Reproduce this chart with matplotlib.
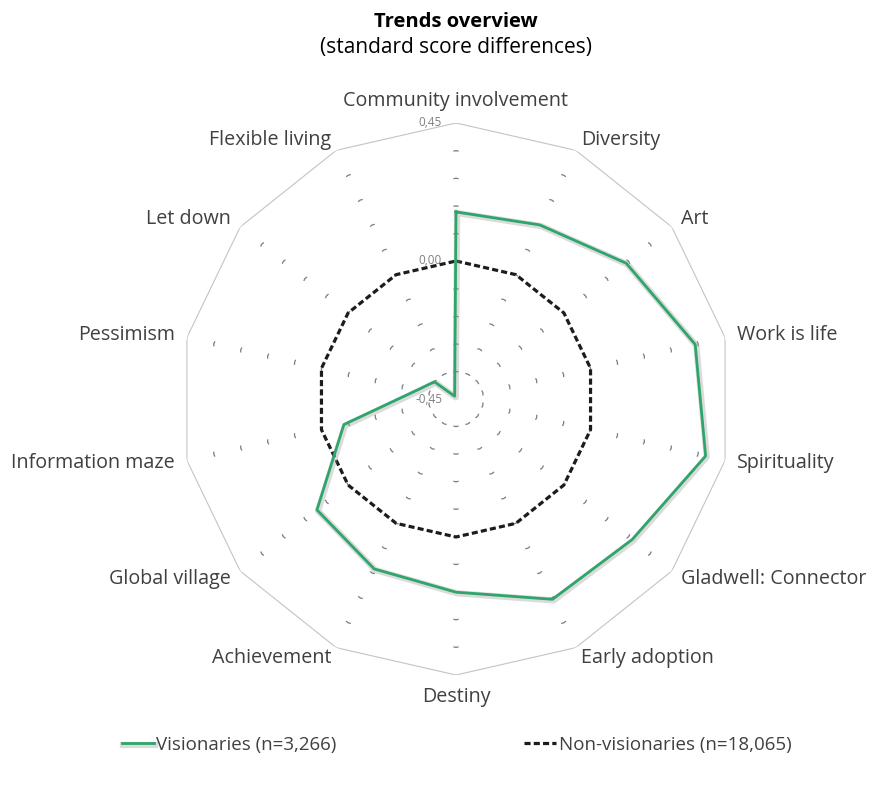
import numpy as np
import matplotlib
matplotlib.use("Agg")
import matplotlib.pyplot as plt
import matplotlib.patheffects as pe

categories = ["Community involvement", "Diversity", "Art", "Work is life", "Spirituality",
              "Gladwell: Connector", "Early adoption", "Destiny", "Achievement", "Global village",
              "Information maze", "Pessimism", "Let down", "Flexible living"]
visionaries = [0.16, 0.18, 0.26, 0.35, 0.385, 0.285, 0.275, 0.18, 0.165, 0.13,
               -0.075, -0.32, -0.36, -0.44]
non_visionaries = [0.0] * 14
series_names = ["Visionaries (n=3,266)", "Non-visionaries (n=18,065)"]
r_min, r_max, r_step = -0.45, 0.45, 0.09
axis_labels = {-0.45: "-0,45", 0.0: "0,00", 0.45: "0,45"}

plt.rcParams['font.family'] = ['Open Sans', 'DejaVu Sans']

W, H = 870, 785
fig = plt.figure(figsize=(W / 100, H / 100), dpi=100)

# place the polar axes so the centre is at (456, 399) px and radius 276 px
cx, cy, R = 456, 399, 276
ax = fig.add_axes([(cx - R) / W, (H - cy - R) / H, 2 * R / W, 2 * R / H], projection='polar')
ax.set_theta_zero_location('N')
ax.set_theta_direction(-1)
ax.set_ylim(r_min, r_max)
ax.grid(False)
ax.set_xticks([])
ax.set_yticks([])
ax.spines['polar'].set_visible(False)
ax.patch.set_visible(False)

n = len(categories)
angles = np.linspace(0, 2 * np.pi, n, endpoint=False)
closed = np.append(angles, angles[0])

# outer frame
ax.plot(closed, [r_max] * (n + 1), color='#c4c4c4', lw=0.8, zorder=1)

# inner rings: only short marks at each spoke (dash pattern = chord length)
levels = np.arange(r_min + r_step, r_max - r_step / 2, r_step)
for lev in levels:
    rho_pt = (lev - r_min) / (r_max - r_min) * R * 0.72
    chord = 2 * rho_pt * np.sin(np.pi / n)
    on = min(3.8, chord * 0.45)
    lw = 0.9
    ax.plot(closed, [lev] * (n + 1), color='#7a7a88', lw=lw, zorder=1,
            linestyle=(on / 2 / lw, (on / lw, (chord - on) / lw)))

for lev, txt in axis_labels.items():
    ax.annotate(txt, xy=(0, lev), xytext=(-10, 0), textcoords='offset points',
                ha='right', va='center', fontsize=8.5, color='#808080')

# series
ax.plot(closed, np.append(non_visionaries, non_visionaries[0]), color='#1c1c1c', lw=2.3,
        linestyle=(0, (1.9, 1.0)), zorder=3, label=series_names[1])
ax.plot(closed, np.append(visionaries, visionaries[0]), color='#2ea56a', lw=2.0, zorder=4,
        label=series_names[0],
        path_effects=[pe.SimpleLineShadow(offset=(0.8, -0.8), shadow_color='#999999', alpha=0.35, linewidth=4.5),
                      pe.Normal()])

# category labels
label_r = r_min + (r_max - r_min) * 288 / R
for ang, cat in zip(angles, categories):
    s = np.sin(ang)
    if abs(s) < 1e-6:
        ha = 'center'
        va = 'bottom' if np.cos(ang) > 0 else 'top'
    else:
        ha = 'left' if s > 0 else 'right'
        va = 'center'
    ax.text(ang, label_r, cat, ha=ha, va=va, fontsize=14.2, color='#404040')

fig.text(cx / W, 1 - 22 / H, "Trends overview", ha='center', va='center',
         fontsize=14.5, fontweight='bold', color='#000000')
fig.text(cx / W, 1 - 47 / H, "(standard score differences)", ha='center', va='center',
         fontsize=15, color='#000000')

handles, labels = ax.get_legend_handles_labels()
fig.legend(handles[::-1], labels[::-1], loc='center', bbox_to_anchor=(0.525, 1 - 745 / H), ncol=2,
           frameon=False, fontsize=13.5, handlelength=1.7, handletextpad=0.15, columnspacing=10.0,
           labelcolor='#404040')

fig.savefig('out.png', dpi=100, facecolor='white')
